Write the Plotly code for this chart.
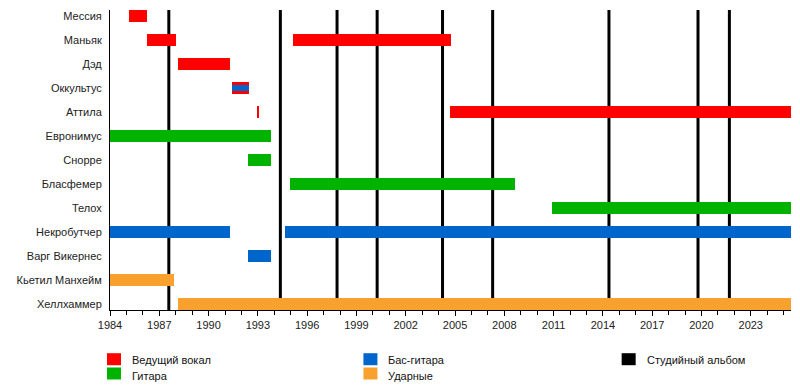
import plotly.graph_objects as go

# ---- data ----
members = ["Мессия", "Маньяк", "Дэд", "Оккультус", "Аттила", "Евронимус", "Снорре",
           "Бласфемер", "Телох", "Некробутчер", "Варг Викернес", "Кьетил Манхейм", "Хеллхаммер"]

end_year = 2025.45

vocal_member = ["Мессия", "Маньяк", "Маньяк", "Дэд", "Оккультус", "Аттила", "Аттила"]
vocal_start = [1985.14, 1986.24, 1995.15, 1988.13, 1991.42, 1992.95, 2004.71]
vocal_end = [1986.24, 1988.01, 2004.78, 1991.28, 1992.46, 1993.09, end_year]

guitar_member = ["Евронимус", "Снорре", "Бласфемер", "Телох"]
guitar_start = [1984.0, 1992.4, 1994.96, 2010.93]
guitar_end = [1993.8, 1993.8, 2008.68, end_year]

bass_member = ["Оккультус", "Некробутчер", "Некробутчер", "Варг Викернес"]
bass_start = [1991.42, 1984.0, 1994.65, 1992.4]
bass_end = [1992.46, 1991.3, end_year, 1993.8]

drums_member = ["Кьетил Манхейм", "Хеллхаммер"]
drums_start = [1984.0, 1988.13]
drums_end = [1987.87, end_year]

albums = [1987.58, 1994.37, 1997.82, 2000.26, 2004.24, 2007.29, 2014.37, 2019.79, 2021.70]

tick_years = list(range(1984, 2025, 3))

legend_labels = ["Ведущий вокал", "Гитара", "Бас-гитара", "Ударные", "Студийный альбом"]

# ---- style ----
RED = "#ff0000"
GREEN = "#00b300"
BLUE = "#0066cc"
ORANGE = "#f9a12e"
BLACK = "#000000"
FONT = "Liberation Sans, Arial, sans-serif"

fig = go.Figure()

def add_role(mem, st, en, color, widths=None):
    fig.add_trace(go.Bar(
        y=mem, x=[e - s for s, e in zip(st, en)], base=st,
        orientation="h", marker=dict(color=color, line=dict(width=0)),
        width=widths if widths is not None else 0.5,
        showlegend=False, hoverinfo="skip",
    ))

add_role(vocal_member, vocal_start, vocal_end, RED)
add_role(guitar_member, guitar_start, guitar_end, GREEN)
# bass drawn as a thinner stripe where the member also sang in that period
bass_widths = []
for m, s in zip(bass_member, bass_start):
    shared = any(vm == m and abs(vs - s) < 0.01 for vm, vs in zip(vocal_member, vocal_start))
    bass_widths.append(0.22 if shared else 0.5)
add_role(bass_member, bass_start, bass_end, BLUE, bass_widths)
add_role(drums_member, drums_start, drums_end, ORANGE)

shapes = []
for a in albums:
    shapes.append(dict(type="line", xref="x", yref="paper", x0=a, x1=a, y0=0, y1=1,
                       line=dict(color=BLACK, width=3), layer="below"))

# manual legend (page pixel layout converted to paper coords)
L, R, T, B = 110.3, 790.7, 10.0, 310.0
def px(xp):
    return (xp - L) / (R - L)
def py(yp):
    return (B - yp) / (B - T)

legend_items = [
    (legend_labels[0], RED, 107.3, 359.2, 1.0),
    (legend_labels[1], GREEN, 107.3, 373.5, 2.5),
    (legend_labels[2], BLUE, 363.5, 359.2, 1.0),
    (legend_labels[3], ORANGE, 363.5, 373.5, 2.5),
    (legend_labels[4], BLACK, 621.5, 359.2, 1.0),
]
annotations = []
for label, color, x0, yc, dy in legend_items:
    shapes.append(dict(type="rect", xref="paper", yref="paper",
                       x0=px(x0), x1=px(x0 + 14), y0=py(yc - 6), y1=py(yc + 6),
                       fillcolor=color, line=dict(width=0)))
    annotations.append(dict(xref="paper", yref="paper", x=px(x0 + 23), y=py(yc + dy),
                            text=label, showarrow=False, xanchor="left", yanchor="middle",
                            font=dict(size=11, color="#111", family=FONT)))

# page body has an 8px margin, so the figure is sized/offset to compensate
OFF = 8
fig.update_layout(
    width=800 - OFF, height=390 - OFF,
    margin=dict(l=L - OFF, r=800 - R, t=T - OFF, b=390 - B, autoexpand=False),
    paper_bgcolor="white", plot_bgcolor="white",
    barmode="overlay", bargap=0,
    shapes=shapes, annotations=annotations,
    font=dict(family=FONT, size=11, color="#222"),
    showlegend=False,
)
fig.update_xaxes(
    range=[1984, end_year], tickvals=tick_years, ticktext=[str(t) for t in tick_years],
    showgrid=False, zeroline=False, showline=True, linecolor=BLACK, linewidth=1,
    ticks="outside", ticklen=5, tickcolor=BLACK, tickwidth=1, automargin=False,
    minor=dict(dtick=1, tick0=1984, ticks="outside", ticklen=4, tickcolor=BLACK, tickwidth=1, showgrid=False),
    tickfont=dict(size=11, color="#222"),
)
fig.update_yaxes(
    type="category", categoryorder="array", categoryarray=members,
    range=[12.25, -0.25], showgrid=False, zeroline=False, automargin=False,
    showline=True, linecolor=BLACK, linewidth=1, ticks="", ticklabelstandoff=5,
    tickfont=dict(size=11, color="#222"),
)

fig.write_html("out.html")
